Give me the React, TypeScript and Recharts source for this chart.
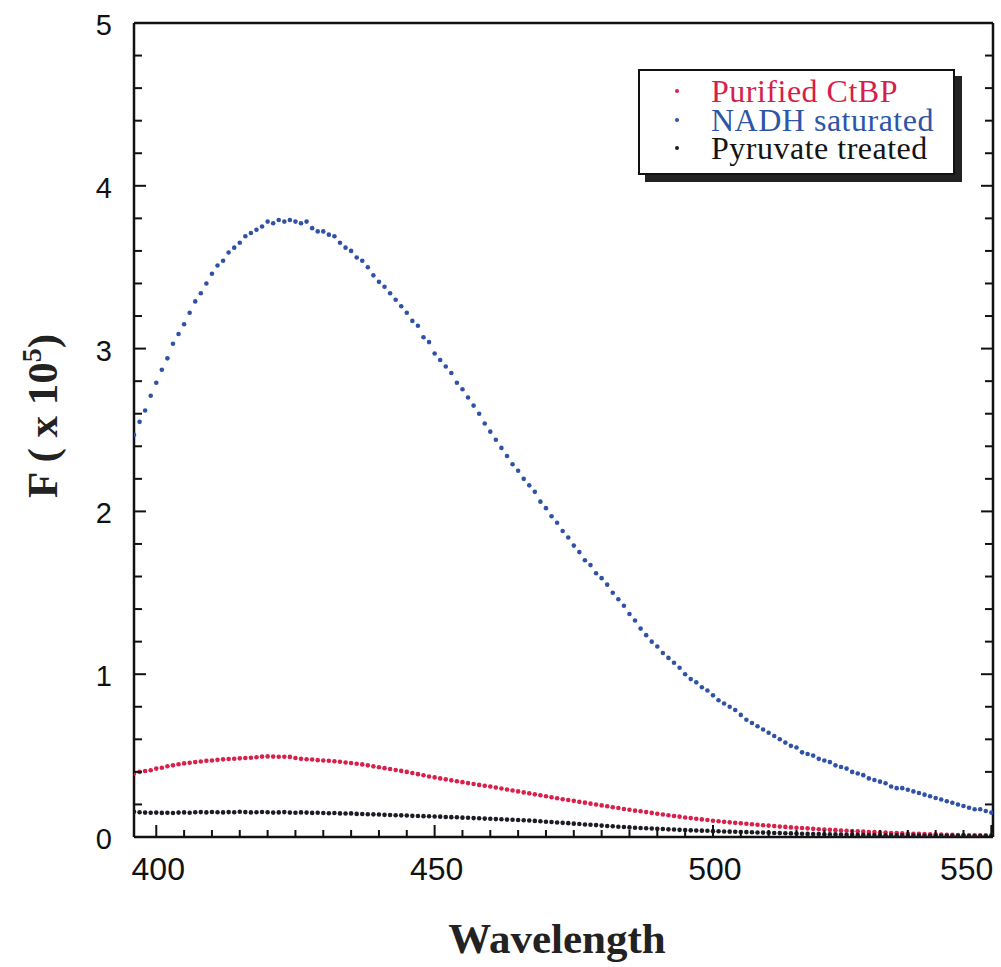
import React from 'react';
import { ScatterChart, Scatter, XAxis, YAxis } from 'recharts';

const wavelengths = [
  396, 397, 398, 399, 400, 401, 402, 403, 404, 405, 406, 407, 408, 409, 410, 411, 412, 413, 414, 415,
  416, 417, 418, 419, 420, 421, 422, 423, 424, 425, 426, 427, 428, 429, 430, 431, 432, 433, 434, 435,
  436, 437, 438, 439, 440, 441, 442, 443, 444, 445, 446, 447, 448, 449, 450, 451, 452, 453, 454, 455,
  456, 457, 458, 459, 460, 461, 462, 463, 464, 465, 466, 467, 468, 469, 470, 471, 472, 473, 474, 475,
  476, 477, 478, 479, 480, 481, 482, 483, 484, 485, 486, 487, 488, 489, 490, 491, 492, 493, 494, 495,
  496, 497, 498, 499, 500, 501, 502, 503, 504, 505, 506, 507, 508, 509, 510, 511, 512, 513, 514, 515,
  516, 517, 518, 519, 520, 521, 522, 523, 524, 525, 526, 527, 528, 529, 530, 531, 532, 533, 534, 535,
  536, 537, 538, 539, 540, 541, 542, 543, 544, 545, 546, 547, 548, 549, 550,
];

const purifiedCtBP = [
  0.39, 0.4, 0.405, 0.41, 0.42, 0.425, 0.435, 0.44, 0.447, 0.452, 0.456, 0.46, 0.464, 0.468, 0.47, 0.474, 0.477, 0.479, 0.481, 0.483,
  0.485, 0.487, 0.49, 0.494, 0.495, 0.494, 0.493, 0.493, 0.492, 0.485, 0.48, 0.478, 0.476, 0.472, 0.47, 0.468, 0.465, 0.462, 0.458, 0.455,
  0.45, 0.446, 0.44, 0.434, 0.428, 0.423, 0.418, 0.412, 0.406, 0.4, 0.393, 0.386, 0.379, 0.372, 0.366, 0.36, 0.354, 0.348, 0.342, 0.337,
  0.331, 0.326, 0.32, 0.315, 0.31, 0.304, 0.298, 0.292, 0.286, 0.28, 0.274, 0.268, 0.262, 0.256, 0.25, 0.244, 0.238, 0.232, 0.227, 0.222,
  0.216, 0.211, 0.205, 0.2, 0.194, 0.189, 0.183, 0.178, 0.172, 0.167, 0.162, 0.158, 0.153, 0.148, 0.143, 0.138, 0.134, 0.129, 0.125, 0.12,
  0.116, 0.112, 0.108, 0.104, 0.1, 0.097, 0.093, 0.09, 0.087, 0.084, 0.081, 0.078, 0.075, 0.072, 0.07, 0.067, 0.064, 0.062, 0.059, 0.057,
  0.055, 0.053, 0.05, 0.048, 0.046, 0.044, 0.042, 0.04, 0.038, 0.036, 0.035, 0.033, 0.031, 0.03, 0.028, 0.027, 0.025, 0.024, 0.022, 0.021,
  0.02, 0.019, 0.018, 0.017, 0.016, 0.015, 0.014, 0.013, 0.012, 0.012, 0.011, 0.011, 0.01, 0.01, 0.01,
];

const nadhSaturated = [
  2.47, 2.55, 2.62, 2.71, 2.79, 2.87, 2.94, 3.03, 3.09, 3.15, 3.22, 3.29, 3.34, 3.4, 3.46, 3.51, 3.54, 3.59, 3.62, 3.65,
  3.69, 3.71, 3.73, 3.75, 3.78, 3.77, 3.79, 3.78, 3.79, 3.78, 3.77, 3.78, 3.74, 3.72, 3.72, 3.7, 3.69, 3.65, 3.62, 3.6,
  3.56, 3.54, 3.5, 3.45, 3.41, 3.38, 3.34, 3.3, 3.26, 3.22, 3.17, 3.14, 3.07, 3.04, 2.97, 2.93, 2.89, 2.85, 2.79, 2.75,
  2.7, 2.65, 2.6, 2.54, 2.49, 2.44, 2.39, 2.34, 2.29, 2.25, 2.2, 2.16, 2.12, 2.06, 2.02, 1.97, 1.93, 1.88, 1.84, 1.79,
  1.75, 1.7, 1.67, 1.62, 1.59, 1.55, 1.5, 1.46, 1.42, 1.37, 1.33, 1.28, 1.24, 1.2, 1.17, 1.13, 1.1, 1.07, 1.04, 1.0,
  0.97, 0.95, 0.92, 0.9, 0.87, 0.84, 0.82, 0.8, 0.78, 0.75, 0.72, 0.7, 0.68, 0.66, 0.64, 0.62, 0.6, 0.58, 0.56, 0.55,
  0.52, 0.51, 0.5, 0.48, 0.47, 0.46, 0.44, 0.43, 0.42, 0.4, 0.39, 0.38, 0.36, 0.35, 0.34, 0.33, 0.31, 0.3, 0.3, 0.29,
  0.28, 0.27, 0.26, 0.25, 0.24, 0.23, 0.22, 0.21, 0.2, 0.19, 0.18, 0.17, 0.17, 0.16, 0.15,
];

const pyruvateTreated = [
  0.155, 0.152, 0.15, 0.149, 0.15, 0.148, 0.149, 0.147, 0.15, 0.151, 0.149, 0.152, 0.153, 0.151, 0.154, 0.152, 0.151, 0.153, 0.152, 0.155,
  0.153, 0.151, 0.152, 0.154, 0.152, 0.15, 0.151, 0.153, 0.15, 0.149, 0.151, 0.15, 0.148, 0.149, 0.147, 0.146, 0.147, 0.145, 0.144, 0.145,
  0.142, 0.141, 0.14, 0.139, 0.138, 0.136, 0.135, 0.134, 0.133, 0.132, 0.13, 0.129, 0.128, 0.127, 0.126, 0.125, 0.123, 0.122, 0.121, 0.119,
  0.118, 0.116, 0.115, 0.113, 0.112, 0.11, 0.109, 0.107, 0.106, 0.104, 0.103, 0.101, 0.099, 0.097, 0.094, 0.092, 0.089, 0.087, 0.085, 0.082,
  0.08, 0.077, 0.075, 0.073, 0.07, 0.068, 0.066, 0.063, 0.061, 0.059, 0.057, 0.055, 0.054, 0.052, 0.05, 0.049, 0.047, 0.046, 0.044, 0.043,
  0.041, 0.04, 0.039, 0.038, 0.036, 0.035, 0.034, 0.033, 0.032, 0.031, 0.03, 0.029, 0.028, 0.027, 0.026, 0.025, 0.024, 0.023, 0.022, 0.021,
  0.02, 0.019, 0.018, 0.018, 0.017, 0.016, 0.016, 0.015, 0.014, 0.014, 0.013, 0.013, 0.012, 0.012, 0.011, 0.011, 0.01, 0.01, 0.01, 0.009,
  0.009, 0.009, 0.008, 0.008, 0.008, 0.008, 0.007, 0.007, 0.007, 0.007, 0.006, 0.006, 0.006, 0.006, 0.006,
];

const xTicks = [
  400, 405, 410, 415, 420, 425, 430, 435, 440, 445, 450, 455, 460, 465, 470, 475, 480, 485, 490, 495,
  500, 505, 510, 515, 520, 525, 530, 535, 540, 545, 550,
];
const xMajor = [400, 450, 500, 550];
const yTicks = [
  0, 0.2, 0.4, 0.6, 0.8, 1, 1.2, 1.4, 1.6, 1.8, 2, 2.2, 2.4, 2.6, 2.8, 3, 3.2, 3.4, 3.6, 3.8, 4, 4.2, 4.4, 4.6, 4.8, 5,
];
const yMajor = [0, 1, 2, 3, 4, 5];

const seriesNames = ['Purified CtBP', 'NADH saturated', 'Pyruvate treated'];
const seriesColors = ['#d8204b', '#2f52a6', '#1c1c24'];
const legendTextColors = ['#d81e4c', '#2d55a6', '#141414'];

const toPoints = (vals: number[]) => wavelengths.map((w, i) => ({ w, v: vals[i] }));
const seriesData = [toPoints(purifiedCtBP), toPoints(nadhSaturated), toPoints(pyruvateTreated)];

const isMajorX = (v: number) => xMajor.indexOf(v) >= 0;
const isMajorY = (v: number) => yMajor.some((m) => Math.abs(m - v) < 1e-6);

const SANS = '"Liberation Sans", Arial, Helvetica, sans-serif';
const SERIF = '"Liberation Serif", "Times New Roman", Times, serif';

const BottomTick = (props: any) => {
  const { x, y, payload } = props;
  const v = payload.value;
  const major = isMajorX(v);
  const last = v === 550;
  return (
    <g>
      <line x1={x} y1={y} x2={x} y2={y - (major ? 12 : 7)} stroke="#111" strokeWidth={2} />
      {major && (
        <text
          x={last ? x + 2 : x + 2}
          y={y + 43}
          textAnchor={last ? 'end' : 'middle'}
          fontFamily={SANS}
          fontSize={32}
          fill="#111"
        >
          {v}
        </text>
      )}
    </g>
  );
};

const TopTick = (props: any) => {
  const { x, y, payload } = props;
  const major = isMajorX(payload.value);
  return <line x1={x} y1={y} x2={x} y2={y + (major ? 12 : 7)} stroke="#111" strokeWidth={2} />;
};

const LeftTick = (props: any) => {
  const { x, y, payload } = props;
  const v = payload.value;
  const major = isMajorY(v);
  return (
    <g>
      <line x1={x} y1={y} x2={x + (major ? 12 : 8)} y2={y} stroke="#111" strokeWidth={2} />
      {major && (
        <text x={x - 22} y={y + 12} textAnchor="end" fontFamily={SANS} fontSize={29} fill="#111">
          {Math.round(v)}
        </text>
      )}
    </g>
  );
};

const RightTick = (props: any) => {
  const { x, y, payload } = props;
  const major = isMajorY(payload.value);
  return <line x1={x} y1={y} x2={x - (major ? 12 : 8)} y2={y} stroke="#111" strokeWidth={2} />;
};

const makeDot = (color: string) => (p: any) => <circle cx={p.cx} cy={p.cy} r={2.3} fill={color} />;

export default function App() {
  return (
    <div style={{ position: 'absolute', left: 0, top: 0, width: 1001, height: 967, background: '#fff' }}>
      <ScatterChart width={1001} height={967} margin={{ top: 0, right: 0, bottom: 90, left: 74 }}>
        <XAxis
          xAxisId="bottom"
          dataKey="w"
          type="number"
          orientation="bottom"
          domain={[396, 550.3]}
          allowDataOverflow
          ticks={xTicks}
          interval={0}
          tickSize={0}
          tickMargin={0}
          tickLine={false}
          height={40}
          axisLine={{ stroke: '#111', strokeWidth: 2.5 }}
          tick={BottomTick}
        />
        <XAxis
          xAxisId="top"
          type="number"
          orientation="top"
          domain={[396, 550.3]}
          allowDataOverflow
          ticks={xTicks}
          interval={0}
          tickSize={0}
          tickMargin={0}
          tickLine={false}
          height={23}
          axisLine={{ stroke: '#111', strokeWidth: 2.5 }}
          tick={TopTick}
        />
        <YAxis
          yAxisId="left"
          dataKey="v"
          type="number"
          orientation="left"
          domain={[0, 5]}
          allowDataOverflow
          ticks={yTicks}
          interval={0}
          tickSize={0}
          tickMargin={0}
          tickLine={false}
          width={60}
          axisLine={{ stroke: '#111', strokeWidth: 2.5 }}
          tick={LeftTick}
        />
        <YAxis
          yAxisId="right"
          type="number"
          orientation="right"
          domain={[0, 5]}
          allowDataOverflow
          ticks={yTicks}
          interval={0}
          tickSize={0}
          tickMargin={0}
          tickLine={false}
          width={8}
          axisLine={{ stroke: '#111', strokeWidth: 2.5 }}
          tick={RightTick}
        />
        {seriesData.map((d, i) => (
          <Scatter
            key={seriesNames[i]}
            name={seriesNames[i]}
            data={d}
            xAxisId="bottom"
            yAxisId="left"
            fill={seriesColors[i]}
            shape={makeDot(seriesColors[i])}
            isAnimationActive={false}
          />
        ))}
      </ScatterChart>

      <div
        style={{
          position: 'absolute',
          left: 557,
          top: 938,
          transform: 'translate(-50%, -50%)',
          fontFamily: SERIF,
          fontWeight: 'bold',
          fontSize: 43,
          lineHeight: 1,
          color: '#222',
          whiteSpace: 'nowrap',
        }}
      >
        Wavelength
      </div>

      <div
        style={{
          position: 'absolute',
          left: 42,
          top: 416,
          transform: 'translate(-50%, -50%) rotate(-90deg)',
          fontFamily: SERIF,
          fontWeight: 'bold',
          fontSize: 43,
          lineHeight: 1,
          color: '#222',
          whiteSpace: 'nowrap',
        }}
      >
        F ( x 10
        <span style={{ fontSize: 28, position: 'relative', top: -16 }}>5</span>)
      </div>

      <div
        style={{
          position: 'absolute',
          left: 638,
          top: 69,
          width: 313,
          height: 96,
          border: '2px solid #111',
          boxShadow: '7px 7px 0 #222',
          background: '#fff',
          paddingTop: 6,
          boxSizing: 'content-box',
        }}
      >
        {seriesNames.map((n, i) => (
          <div
            key={n}
            style={{
              position: 'relative',
              height: 28.5,
              lineHeight: '28.5px',
              fontFamily: SERIF,
              fontSize: 32,
              letterSpacing: 0.5,
              color: legendTextColors[i],
              paddingLeft: 71,
              whiteSpace: 'nowrap',
            }}
          >
            <span
              style={{
                position: 'absolute',
                left: 35,
                top: 12,
                width: 4,
                height: 4,
                borderRadius: 2,
                background: seriesColors[i],
              }}
            />
            {n}
          </div>
        ))}
      </div>
    </div>
  );
}
